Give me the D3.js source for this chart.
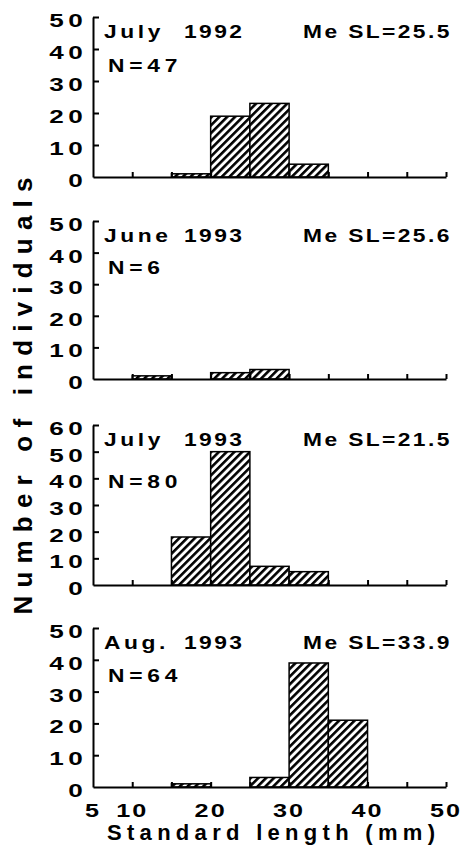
<!DOCTYPE html>
<html>
<head>
	<meta charset="utf-8">
	<title>Standard length histograms</title>
	<script src="https://cdn.jsdelivr.net/npm/d3@7/dist/d3.min.js"></script>
	<style>
		body { margin: 0; background: #fff; }
		text { font-family: "Liberation Sans", Arial, sans-serif; font-weight: bold; fill: #000; }
	</style>
</head>
<body>
	<div id="chart"></div>
	<script type="text/javascript">
		// bins (lower edge, mm), 5 mm wide
		var lengthBins = [10, 15, 20, 25, 30, 35];
		var binWidth = 5;

		var sampleMonth = ["July", "June", "July", "Aug."];
		var sampleYear = ["1992", "1993", "1993", "1993"];
		var sampleN = [47, 6, 80, 64];
		var medianSL = [25.5, 25.6, 21.5, 33.9];

		var countsJul1992 = [0, 1, 19, 23, 4, 0];
		var countsJun1993 = [1, 0, 2, 3, 0, 0];
		var countsJul1993 = [0, 18, 50, 7, 5, 0];
		var countsAug1993 = [0, 1, 0, 3, 39, 21];

		var yMax = [50, 50, 60, 50];
		var xTickLabels = [5, 10, 20, 30, 40, 50];

		var allCounts = [countsJul1992, countsJun1993, countsJul1993, countsAug1993];

		// layout of the four stacked panels
		var panelTop = [17, 221, 425, 628];
		var panelBottom = [177, 379, 585, 787];

		var svg = d3.select("#chart")
					.append("svg")
					.attr("width", 465)
					.attr("height", 852);

		var hatch = svg.append("defs")
					.append("pattern")
					.attr("id", "hatch")
					.attr("patternUnits", "userSpaceOnUse")
					.attr("width", 5.5)
					.attr("height", 5.5)
					.attr("patternTransform", "rotate(45)");
		hatch.append("rect").attr("width", 5.5).attr("height", 5.5).attr("fill", "#fff");
		hatch.append("rect").attr("width", 2.6).attr("height", 5.5).attr("fill", "#000");

		var x = d3.scaleLinear()
				.domain([5, 50])
				.range([93, 446]);

		allCounts.forEach(function(counts, i) {
			var y = d3.scaleLinear()
					.domain([0, yMax[i]])
					.range([panelBottom[i], panelTop[i]]);

			var panel = svg.append("g").attr("class", "panel");

			var bins = counts.map(function(c, j) { return { x0: lengthBins[j], count: c }; })
						.filter(function(d) { return d.count > 0; });

			panel.selectAll(".bar")
				.data(bins)
				.enter()
					.append("rect")
					.attr("class", "bar")
					.attr("x", function(d) { return x(d.x0); })
					.attr("width", function(d) { return x(d.x0 + binWidth) - x(d.x0); })
					.attr("y", function(d) { return y(d.count); })
					.attr("height", function(d) { return y(0) - y(d.count); })
					.attr("fill", "url(#hatch)")
					.attr("stroke", "#000")
					.attr("stroke-width", 1.5);

			// y axis, ticks pointing inside
			panel.append("g")
				.attr("transform", "translate(93,0)")
				.call(d3.axisLeft(y)
					.tickValues(d3.range(10, yMax[i] + 1, 10))
					.tickSizeInner(-6)
					.tickSizeOuter(0)
					.tickFormat(""));

			// x axis, ticks pointing up
			panel.append("g")
				.attr("transform", "translate(0," + panelBottom[i] + ")")
				.call(d3.axisBottom(x)
					.tickValues(d3.range(10, 51, 5))
					.tickSizeInner(-5)
					.tickSizeOuter(0)
					.tickFormat(""));

			panel.selectAll(".domain").attr("stroke", "#000").attr("stroke-width", 2);
			panel.selectAll(".tick line").attr("stroke", "#000").attr("stroke-width", 2);

			panel.selectAll(".ylab")
				.data(d3.range(0, yMax[i] + 1, 10))
				.enter()
					.append("text")
					.attr("class", "ylab")
					.attr("transform", function(d) { return "translate(87," + (y(d) + 10) + ") scale(1.45,1)"; })
					.attr("text-anchor", "end")
					.attr("font-size", 18)
					.attr("letter-spacing", 3)
					.text(function(d) { return d; });

			// sample labels
			var base = panelTop[i] + 21;
			panel.append("text")
				.attr("transform", "translate(104," + base + ") scale(1.2,1)")
				.attr("font-size", 19)
				.attr("letter-spacing", 3)
				.text(sampleMonth[i]);
			panel.append("text")
				.attr("transform", "translate(184," + base + ") scale(1.2,1)")
				.attr("font-size", 19)
				.attr("letter-spacing", 2)
				.text(sampleYear[i]);
			panel.append("text")
				.attr("transform", "translate(303," + base + ") scale(1.2,1)")
				.attr("font-size", 19)
				.attr("letter-spacing", 2)
				.text("Me SL=" + medianSL[i].toFixed(1));

			var nOffset = [55, 53, 63, 54];
			panel.append("text")
				.attr("transform", "translate(108," + (panelTop[i] + nOffset[i]) + ") scale(1.2,1)")
				.attr("font-size", 19)
				.attr("letter-spacing", 4)
				.text("N=" + sampleN[i]);
		});

		// x tick labels on the bottom panel only
		svg.selectAll(".xlab")
			.data(xTickLabels)
			.enter()
				.append("text")
				.attr("class", "xlab")
				.attr("transform", function(d) { return "translate(" + x(d) + ",817) scale(1.4,1)"; })
				.attr("text-anchor", "middle")
				.attr("font-size", 18)
				.attr("letter-spacing", 1.5)
				.text(function(d) { return d; });

		svg.append("text")
			.attr("x", 107)
			.attr("y", 840)
			.attr("font-size", 22)
			.attr("textLength", 328)
			.attr("lengthAdjust", "spacing")
			.text("Standard length (mm)");

		svg.append("text")
			.attr("transform", "translate(32,396) rotate(-90)")
			.attr("text-anchor", "middle")
			.attr("font-size", 26)
			.attr("textLength", 437)
			.attr("lengthAdjust", "spacing")
			.text("Number of individuals");
	</script>
</body>
</html>
